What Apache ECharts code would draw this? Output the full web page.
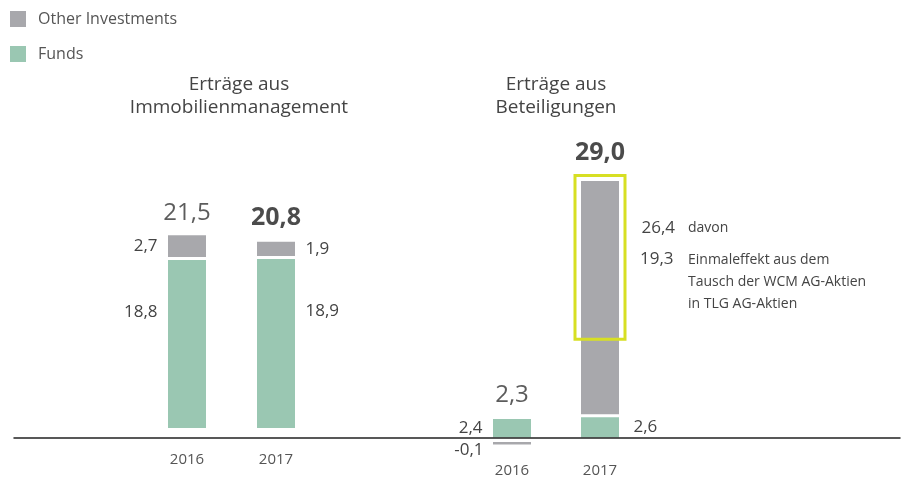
<!DOCTYPE html>
<html>
<head>
<meta charset="utf-8">
<title>Erträge</title>
<script src="https://cdn.jsdelivr.net/npm/echarts@6/dist/echarts.min.js"></script>
<style>
  html, body { margin: 0; padding: 0; background: #fff; }
  #chart { width: 901px; height: 477px; }
</style>
</head>
<body>
<div id="chart"></div>
<script>
// Years shown under each pair of bars
const categories = ['2016', '2017'];
// Erträge aus Immobilienmanagement (Mio. EUR)
const immoFunds = [18.8, 18.9];
const immoOther = [2.7, 1.9];
// Erträge aus Beteiligungen (Mio. EUR)
const betFunds = [2.4, 2.6];
const betOther = [-0.1, 26.4];
// Part of the 2017 "Other Investments" value that came from the share swap
const oneOffEffect = 19.3;

const groupTitles = ['Erträge aus\nImmobilienmanagement', 'Erträge aus\nBeteiligungen'];
const annotationHead = 'davon';
const annotationText = 'Einmaleffekt aus dem\nTausch der WCM AG-Aktien\nin TLG AG-Aktien';

const FONT = '"Open Sans", "Noto Sans", sans-serif';
const GREEN = '#9ac7b2';
const GRAY = '#a8a8ac';
const GRAY_CLEAR = 'rgba(168,168,172,0)';
const YELLOW = '#d7df23';
const TEXT = '#444';

const fmt = v => v.toFixed(1).replace('.', ',');
const sum = (a, b) => a.map((v, i) => Math.round((v + b[i]) * 10) / 10);
const immoTotals = sum(immoFunds, immoOther);
const betTotals = sum(betFunds, betOther);

const side = i => (i === 0 ? 'left' : 'right');
const valueLabel = {
  show: true, formatter: p => fmt(p.value),
  fontFamily: FONT, fontSize: 17, color: TEXT
};
// thin white border separates the stacked segments
const barStyle = color => ({ color: color, borderColor: '#fff', borderWidth: 1.5 });

// a negative segment is drawn as a thin rule set slightly below the baseline
const negativeFill = {
  type: 'linear', x: 0, y: 0, x2: 0, y2: 1,
  colorStops: [
    { offset: 0, color: GRAY_CLEAR }, { offset: 0.47, color: GRAY_CLEAR },
    { offset: 0.47, color: GRAY }, { offset: 1, color: GRAY }
  ]
};

function totalSeries(axis, totals, distances) {
  return {
    type: 'scatter', xAxisIndex: axis, yAxisIndex: axis,
    symbolSize: 1, silent: true,
    itemStyle: { color: 'rgba(0,0,0,0)' },
    data: totals.map((v, i) => ({
      value: v,
      label: {
        show: true, position: 'top', distance: distances[i],
        formatter: p => fmt(p.value),
        fontFamily: FONT,
        fontSize: i === 1 ? 25 : 24,
        fontWeight: i === 1 ? 'bold' : 'normal',
        color: i === 1 ? '#1e1e1e' : '#333'
      }
    }))
  };
}

function categoryAxis(grid, margin) {
  return {
    gridIndex: grid, type: 'category', data: categories,
    axisLine: { show: false }, axisTick: { show: false },
    axisLabel: { margin: margin, fontFamily: FONT, fontSize: 15, color: '#555' }
  };
}

const gridBase = { containLabel: false, outerBoundsMode: 'none' };

const chart = echarts.init(document.getElementById('chart'), null, { renderer: 'canvas' });

chart.setOption({
  animation: false,
  textStyle: { fontFamily: FONT },
  title: [
    { text: groupTitles[0], left: 239, top: 73, textAlign: 'center', padding: 0,
      textStyle: { fontFamily: FONT, fontSize: 19, fontWeight: 'normal', color: TEXT, lineHeight: 23 } },
    { text: groupTitles[1], left: 556, top: 73, textAlign: 'center', padding: 0,
      textStyle: { fontFamily: FONT, fontSize: 19, fontWeight: 'normal', color: TEXT, lineHeight: 23 } }
  ],
  legend: {
    data: ['Other Investments', 'Funds'],
    orient: 'vertical', left: 10, top: 11, padding: 0,
    icon: 'rect', itemWidth: 16, itemHeight: 16, itemGap: 19,
    itemStyle: { borderWidth: 0 },
    textStyle: { fontFamily: FONT, fontSize: 16, color: '#555', padding: [0, 0, 0, 7] }
  },
  grid: [
    Object.assign({ left: 142.5, width: 178, top: 156.5, bottom: 47.5 }, gridBase),
    Object.assign({ left: 468, width: 176, top: 170.5, bottom: 38 }, gridBase),
    Object.assign({ left: 14, right: 1, top: 400, bottom: 39 }, gridBase)
  ],
  xAxis: [
    categoryAxis(0, 23),
    categoryAxis(1, 24),
    { gridIndex: 2, type: 'value', min: 0, max: 1, z: 10,
      axisLine: { show: true, onZero: false, lineStyle: { color: '#222', width: 1.5 } },
      axisTick: { show: false }, axisLabel: { show: false }, splitLine: { show: false } }
  ],
  yAxis: [
    { gridIndex: 0, type: 'value', min: 0, max: 30, show: false },
    { gridIndex: 1, type: 'value', min: 0, max: 30, show: false },
    { gridIndex: 2, type: 'value', min: 0, max: 1, show: false }
  ],
  series: [
    {
      name: 'Funds', type: 'bar', stack: 'immo', xAxisIndex: 0, yAxisIndex: 0,
      barWidth: 41, itemStyle: barStyle(GREEN), label: valueLabel,
      data: immoFunds.map((v, i) => ({
        value: v, label: { position: side(i), distance: 9, offset: [0, -32] }
      }))
    },
    {
      name: 'Other Investments', type: 'bar', stack: 'immo', xAxisIndex: 0, yAxisIndex: 0,
      barWidth: 41, itemStyle: barStyle(GRAY), label: valueLabel,
      data: immoOther.map((v, i) => ({
        value: v, label: { position: side(i), distance: 9 }
      }))
    },
    {
      name: 'Funds', type: 'bar', stack: 'bet', xAxisIndex: 1, yAxisIndex: 1, z: 3,
      barWidth: 41, clip: false, itemStyle: barStyle(GREEN), label: valueLabel,
      data: betFunds.map((v, i) => ({
        value: v, label: { position: side(i), distance: i === 0 ? 9 : 13 }
      }))
    },
    {
      name: 'Other Investments', type: 'bar', stack: 'bet', xAxisIndex: 1, yAxisIndex: 1,
      barWidth: 41, barMinHeight: 7, clip: false, itemStyle: barStyle(GRAY), label: valueLabel,
      data: betOther.map((v, i) => (v < 0
        ? { value: v, itemStyle: { color: negativeFill },
            label: { position: 'left', distance: 8, offset: [0, 8] } }
        : { value: v,
            label: { position: [62, 49], align: 'left', verticalAlign: 'middle' } }))
    },
    totalSeries(0, immoTotals, [8, 9.5]),
    totalSeries(1, betTotals, [11, 14])
  ]
});

// Frame around the one-off part of the 2017 bar plus its explanation
const last = categories.length - 1;
const topPx = chart.convertToPixel({ gridIndex: 1 }, [last, betTotals[last]]);
const cutPx = chart.convertToPixel({ gridIndex: 1 }, [last, betTotals[last] - oneOffEffect]);
const cx = topPx[0];
const boxTop = topPx[1] - 4;
const boxBottom = cutPx[1] - 13;

chart.setOption({
  graphic: [
    { type: 'rect', z: 20, silent: true,
      shape: { x: cx - 25, y: boxTop, width: 50, height: boxBottom - boxTop },
      style: { fill: 'none', stroke: YELLOW, lineWidth: 3 } },
    { type: 'text', z: 20, silent: true, x: cx + 88, y: topPx[1] + 49,
      style: { text: annotationHead, font: '14px ' + FONT, fill: TEXT, verticalAlign: 'middle' } },
    { type: 'text', z: 20, silent: true, x: cx + 40, y: topPx[1] + 80,
      style: { text: fmt(oneOffEffect), font: '17px ' + FONT, fill: TEXT, verticalAlign: 'middle' } },
    { type: 'text', z: 20, silent: true, x: cx + 88, y: topPx[1] + 70,
      style: { text: annotationText, font: '14px ' + FONT, fill: TEXT, lineHeight: 21.7, verticalAlign: 'top' } }
  ]
});
</script>
</body>
</html>
